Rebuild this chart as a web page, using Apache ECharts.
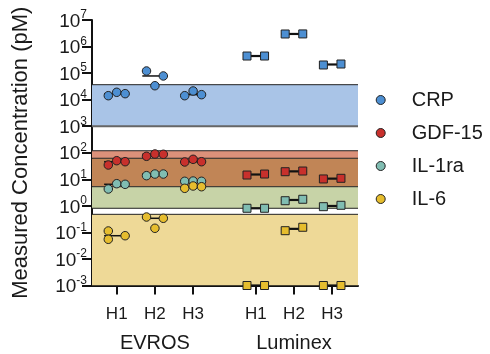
<!DOCTYPE html>
<html><head><meta charset="utf-8">
<script src="https://cdn.jsdelivr.net/npm/echarts@6/dist/echarts.min.js"></script>
<style>html,body{margin:0;padding:0;background:#fff}#c{width:490px;height:354px}</style>
</head><body><div id="c"></div>
<script>
// ---- data ----
const analytes = ['CRP', 'GDF-15', 'IL-1ra', 'IL-6'];
const tickLabels = ['H1', 'H2', 'H3', 'H1', 'H2', 'H3'];
const groupLabels = ['EVROS', 'Luminex'];
const categoryPos = [1, 2, 3, 4.64, 5.64, 6.64];
const groupPos = [2, 5.64];
const yExponents = [-3, -2, -1, 0, 1, 2, 3, 4, 5, 6, 7];

// EVROS triplicates (pM), per H1, H2, H3
const evrosCRP   = [[1.41e4, 1.89e4, 1.68e4], [1.2e5, 3.35e4, 7.8e4], [1.41e4, 2.12e4, 1.54e4]];
const evrosGDF15 = [[34.6, 50.2, 46], [73.5, 89.7, 87.5], [44.9, 56.6, 46]];
const evrosIL1ra = [[4.31, 6.83, 6.48], [13.7, 15.8, 15.8], [8.4, 8.6, 8.4]];
const evrosIL6   = [[0.113, 0.055, 0.075], [0.38, 0.143, 0.34], [4.58, 5.6, 5.26]];

// Luminex duplicates (pM), per H1, H2, H3
const lumCRP   = [[4.4e5, 4.4e5], [2.97e6, 2.99e6], [2.02e5, 2.2e5]];
const lumGDF15 = [[14.5, 15.8], [19.3, 20.5], [10.3, 10.9]];
const lumIL1ra = [[0.81, 0.81], [1.56, 1.77], [0.93, 1.05]];
const lumIL6   = [[0.001, 0.001], [0.116, 0.156], [0.001, 0.001]];

// reference ranges (pM) [low, high]
const rangeCRP   = [1000, 36600];
const rangeGDF15 = [5.26, 119];
const rangeIL1ra = [0.81, 62];
const rangeIL6   = [0.001, 0.48];

// ---- layout / style ----
const X_MIN = 0.353, X_MAX = 7.316;
const evrosJitter = [[-0.22, 0, 0.22], [-0.22, 0, 0.22], [-0.22, 0, 0.22]];
const evrosJitterIL6 = [[-0.22, -0.22, 0.22], [-0.22, 0, 0.22], [-0.22, 0, 0.22]];
const lumJitter = [-0.23, 0.23];
const medHalf = 0.33;
const dotColors = ['#4d8fd2', '#c8302c', '#80bdb2', '#e6bd2e'];
const bandColors = { crp: '#a9c4e7', gdfOnly: '#dc917a', overlap: '#c18556', il1Only: '#c7d3a7', il6: '#eed997' };
const FONT = 'Liberation Sans, Arial, Helvetica, sans-serif';

const evrosSets = [evrosCRP, evrosGDF15, evrosIL1ra, evrosIL6];
const lumSets = [lumCRP, lumGDF15, lumIL1ra, lumIL6];

function median(a) { const s = a.slice().sort((p, q) => p - q); const m = s.length >> 1; return s.length % 2 ? s[m] : (s[m - 1] + s[m]) / 2; }

// band segments
const segs = [
  [rangeCRP[0], rangeCRP[1], bandColors.crp],
  [Math.max(rangeGDF15[0], rangeIL1ra[1]), rangeGDF15[1], bandColors.gdfOnly],
  [Math.max(rangeGDF15[0], rangeIL1ra[0]), Math.min(rangeGDF15[1], rangeIL1ra[1]), bandColors.overlap],
  [rangeIL1ra[0], Math.min(rangeIL1ra[1], rangeGDF15[0]), bandColors.il1Only],
  [rangeIL6[0], rangeIL6[1], bandColors.il6]
];
const edges = [
  [rangeCRP[1], 0], [rangeCRP[0], 1],
  [rangeGDF15[1], 0], [rangeGDF15[0], 0],
  [rangeIL1ra[1], 0], [rangeIL1ra[0], 0],
  [rangeIL6[1], 0]
];

const series = [];
series.push({
  type: 'custom', z: 1, silent: true, clip: true,
  data: segs.map(s => [s[0], s[1]]),
  renderItem: (p, api) => {
    const s = segs[p.dataIndex];
    const a = api.coord([X_MIN, s[1]]), b = api.coord([X_MAX, s[0]]);
    return { type: 'rect', shape: { x: a[0], y: a[1], width: b[0] - a[0], height: b[1] - a[1] }, style: { fill: s[2] } };
  }
});
series.push({
  type: 'custom', z: 2, silent: true,
  data: edges.map(e => [e[0]]),
  renderItem: (p, api) => {
    const e = edges[p.dataIndex];
    const a = api.coord([X_MIN, e[0]]), b = api.coord([X_MAX, e[0]]);
    return { type: 'line', shape: { x1: a[0], y1: a[1], x2: b[0], y2: a[1] },
      style: { stroke: e[1] ? '#666' : '#222', lineWidth: e[1] ? 2 : 1 } };
  }
});

// median lines
const medData = [];
analytes.forEach((n, ai) => {
  evrosSets[ai].forEach((g, gi) => medData.push([categoryPos[gi], median(g), 1.5]));
  lumSets[ai].forEach((g, gi) => medData.push([categoryPos[gi + 3], median(g), 2.2]));
});
series.push({
  type: 'custom', z: 3, silent: true, clip: false,
  data: medData,
  renderItem: (p, api) => {
    const d = medData[p.dataIndex];
    const a = api.coord([d[0] - medHalf, d[1]]), b = api.coord([d[0] + medHalf, d[1]]);
    return { type: 'line', shape: { x1: a[0], y1: a[1], x2: b[0], y2: b[1] }, style: { stroke: '#111', lineWidth: d[2] } };
  }
});

analytes.forEach((n, ai) => {
  const ev = [];
  const jit = ai === 3 ? evrosJitterIL6 : evrosJitter;
  evrosSets[ai].forEach((g, gi) => g.forEach((v, k) => ev.push([categoryPos[gi] + jit[gi][k], v])));
  const lu = [];
  lumSets[ai].forEach((g, gi) => g.forEach((v, k) => lu.push([categoryPos[gi + 3] + lumJitter[k], v])));
  series.push({ name: n, type: 'scatter', z: 5, clip: false, symbol: 'circle', symbolSize: 8.5, data: ev,
    itemStyle: { color: dotColors[ai], borderColor: '#222', borderWidth: 1, opacity: 1 } });
  series.push({ name: n, type: 'scatter', z: 5, clip: false, symbol: 'rect', symbolSize: 8, data: lu,
    itemStyle: { color: dotColors[ai], borderColor: '#222', borderWidth: 1, opacity: 1 } });
});

const nearestIdx = (arr, v) => { let bi = 0; arr.forEach((a, i) => { if (Math.abs(a - v) < Math.abs(arr[bi] - v)) bi = i; }); return bi; };

const option = {
  animation: false,
  textStyle: { fontFamily: FONT },
  grid: { left: 92, right: 132, top: 20, bottom: 68.5, containLabel: false },
  legend: {
    orient: 'vertical', left: 375.7, top: 90, itemGap: 13, padding: 0,
    itemWidth: 20, itemHeight: 9, icon: 'circle',
    textStyle: { fontSize: 20, color: '#1a1a1a', fontFamily: FONT, padding: [0, 0, 0, 16] },
    data: analytes.map((n, i) => ({ name: n, itemStyle: { color: dotColors[i], borderColor: '#222', borderWidth: 1 } }))
  },
  xAxis: [{
    type: 'value', min: X_MIN, max: X_MAX,
    axisLine: { lineStyle: { color: '#111', width: 2 } },
    axisTick: { show: true, length: 9, lineStyle: { color: '#111', width: 2 }, customValues: categoryPos },
    axisLabel: { customValues: categoryPos, margin: 20, fontSize: 17, color: '#1a1a1a', fontFamily: FONT,
      formatter: v => tickLabels[nearestIdx(categoryPos, v)] },
    splitLine: { show: false }
  }, {
    type: 'value', min: X_MIN, max: X_MAX, position: 'bottom', gridIndex: 0,
    axisLine: { show: false }, axisTick: { show: false },
    axisLabel: { customValues: groupPos, margin: 48, fontSize: 20, color: '#1a1a1a', fontFamily: FONT,
      formatter: v => groupLabels[nearestIdx(groupPos, v)] },
    splitLine: { show: false }
  }],
  yAxis: {
    type: 'log', logBase: 10, min: Math.pow(10, yExponents[0]), max: Math.pow(10, yExponents[yExponents.length - 1]),
    interval: 1,
    name: 'Measured Concentration (pM)', nameLocation: 'middle', nameGap: 60, nameRotate: 90,
    nameTextStyle: { fontSize: 22, color: '#1a1a1a', fontFamily: FONT },
    axisLine: { lineStyle: { color: '#111', width: 2 } },
    axisTick: { length: 10, lineStyle: { color: '#111', width: 2 } },
    splitLine: { show: false },
    axisLabel: {
      margin: 5, color: '#1a1a1a', fontFamily: FONT,
      formatter: v => '{b|10}{s|' + Math.round(Math.log10(v)) + '}',
      rich: {
        b: { fontSize: 19, fontFamily: FONT, color: '#1a1a1a', lineHeight: 22, verticalAlign: 'bottom' },
        s: { fontSize: 12, fontFamily: FONT, color: '#1a1a1a', lineHeight: 22, verticalAlign: 'top' }
      }
    }
  },
  series: series
};
const chart = echarts.init(document.getElementById('c'), null, { renderer: 'canvas' });
chart.setOption(option);
</script></body></html>
